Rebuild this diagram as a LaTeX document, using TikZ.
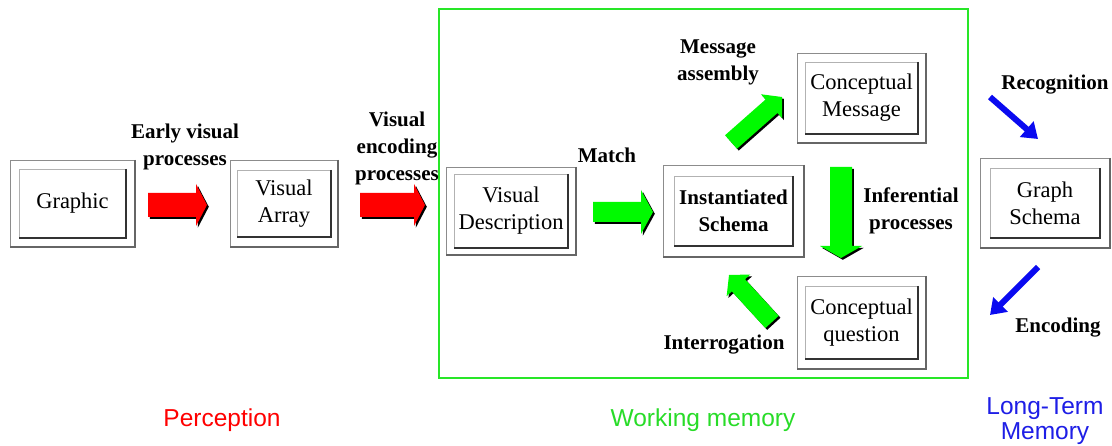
\documentclass[tikz,border=0pt]{standalone}
\usepackage{fontspec}
\setmainfont{Liberation Serif}
\setsansfont{Liberation Sans}
\usetikzlibrary{calc,arrows.meta}
\definecolor{ared}{RGB}{255,0,0}
\definecolor{agreen}{RGB}{0,250,0}
\definecolor{fgreen}{RGB}{40,230,40}
\definecolor{ablue}{RGB}{10,10,240}
\definecolor{tgreen}{RGB}{40,220,40}
\definecolor{tblue}{RGB}{30,30,230}
\tikzset{
  box/.style={draw=none, inner sep=0pt, outer sep=0pt, align=center,
    font=\fontsize{22.5}{27}\selectfont},
  lbl/.style={inner sep=0pt, align=center, font=\fontsize{21}{27}\selectfont},
  blbl/.style={lbl, font=\bfseries\fontsize{21}{27}\selectfont},
  zone/.style={inner sep=0pt, align=center, font=\sffamily\fontsize{24.5}{25}\selectfont},
  olight/.style={draw=black!45, line width=0.8pt},
  odark/.style={draw=black!60, line width=1.3pt},
  ilight/.style={draw=black!30, line width=0.8pt},
  idark/.style={draw=black!80, line width=1.6pt},
  thinarrow/.style={draw=ablue, line width=6pt, -{Triangle[width=20pt,length=15pt]}},
}
\newcommand\bevel[3]{%
  \draw[olight] (#1.south west) -- (#1.north west) -- (#1.north east);
  \draw[odark] (#1.north east) -- (#1.south east) -- (#1.south west);
  \draw[ilight] ([shift={(#2pt,#3pt)}]#1.south west) -- ([shift={(#2pt,-#3pt)}]#1.north west) -- ([shift={(-#2pt,-#3pt)}]#1.north east);
  \draw[idark] ([shift={(-#2pt,-#3pt)}]#1.north east) -- ([shift={(-#2pt,#3pt)}]#1.south east) -- ([shift={(#2pt,#3pt)}]#1.south west);
}
\newcommand\blockarr[6]{%
  \coordinate (hb) at ($(#3)!#6!(#2)$);
  \def\arrpath{($(#2)!#4!90:(#3)$) -- ($(hb)!#4!90:(#3)$) -- ($(hb)!#5!90:(#3)$) -- (#3) -- ($(hb)!#5!-90:(#3)$) -- ($(hb)!#4!-90:(#3)$) -- ($(#2)!#4!-90:(#3)$) -- cycle}
  \fill[black, transform canvas={shift={(1.8pt,-1.8pt)}}] \arrpath;
  \fill[#1] \arrpath;
}
\begin{document}
\begin{tikzpicture}[x=1pt,y=-1pt]
\useasboundingbox (0,0) rectangle (1112,446);
\fill[white] (0,0) rectangle (1112,446);

% working memory frame
\draw[fgreen, line width=2.6pt] (439,9) rectangle (968,378);

% boxes
\node[box, minimum width=125pt, minimum height=87pt] (graphic) at (72.5,203.5) {Graphic};
\bevel{graphic}{9}{9}
\node[box, minimum width=108pt, minimum height=87pt] (varray) at (284,203.5) {Visual\\Array};
\bevel{varray}{7}{10}
\node[box, minimum width=130pt, minimum height=88pt] (vdesc) at (511,211) {Visual\\Description};
\bevel{vdesc}{8}{7}
\node[box, minimum width=141pt, minimum height=92pt, font=\bfseries\fontsize{21}{27}\selectfont] (ischema) at (733.5,211) {Instantiated\\Schema};
\bevel{ischema}{11}{11}
\node[box, minimum width=129pt, minimum height=90pt] (cmsg) at (861.5,98) {Conceptual\\Message};
\bevel{cmsg}{8}{9}
\node[box, minimum width=129pt, minimum height=93pt] (cq) at (861.5,322.5) {Conceptual\\question};
\bevel{cq}{8}{10}
\node[box, minimum width=130pt, minimum height=90pt] (gschema) at (1045,203) {Graph\\Schema};
\bevel{gschema}{10}{10}

% arrow end points
\coordinate (r1s) at (148,205); \coordinate (r1e) at (207,205);
\coordinate (r2s) at (360,205); \coordinate (r2e) at (425,205);
\coordinate (ms) at (593,212);  \coordinate (me) at (653,212);
\coordinate (ds) at (841,167);  \coordinate (de) at (841,258);
\coordinate (us) at (731,142);  \coordinate (ue) at (782,97);
\coordinate (is) at (772,322);  \coordinate (ie) at (729,275);
\coordinate (bs1) at (990,97);  \coordinate (be1) at (1038,139);
\coordinate (bs2) at (1038,267); \coordinate (be2) at (990,315);

\blockarr{ared}{r1s}{r1e}{12pt}{21pt}{11pt}
\blockarr{ared}{r2s}{r2e}{12pt}{21pt}{11pt}
\blockarr{agreen}{ms}{me}{10pt}{22pt}{12pt}
\blockarr{agreen}{ds}{de}{11pt}{21pt}{12pt}
\blockarr{agreen}{us}{ue}{9pt}{16pt}{14pt}
\blockarr{agreen}{is}{ie}{9pt}{16pt}{14pt}
\draw[thinarrow] (bs1) -- (be1);
\draw[thinarrow] (bs2) -- (be2);

% labels
\node[blbl] (l1) at (185,147) {Early visual\\processes};
\node[blbl] (l2) at (397,148) {Visual\\encoding\\processes};
\node[blbl] (l3) at (607,155) {Match};
\node[blbl] (l4) at (718,62) {Message\\assembly};
\node[blbl] (l5) at (911,211) {Inferential\\processes};
\node[blbl] (l6) at (724,345) {Interrogation};
\node[blbl] (l7) at (1055,85) {Recognition};
\node[blbl] (l8) at (1058,328) {Encoding};

\node[zone, text=ared] (z1) at (222,420) {Perception};
\node[zone, text=tgreen] (z2) at (703,420) {Working memory};
\node[zone, text=tblue] (z3) at (1045,421) {Long-Term\\Memory};
\end{tikzpicture}
\end{document}
